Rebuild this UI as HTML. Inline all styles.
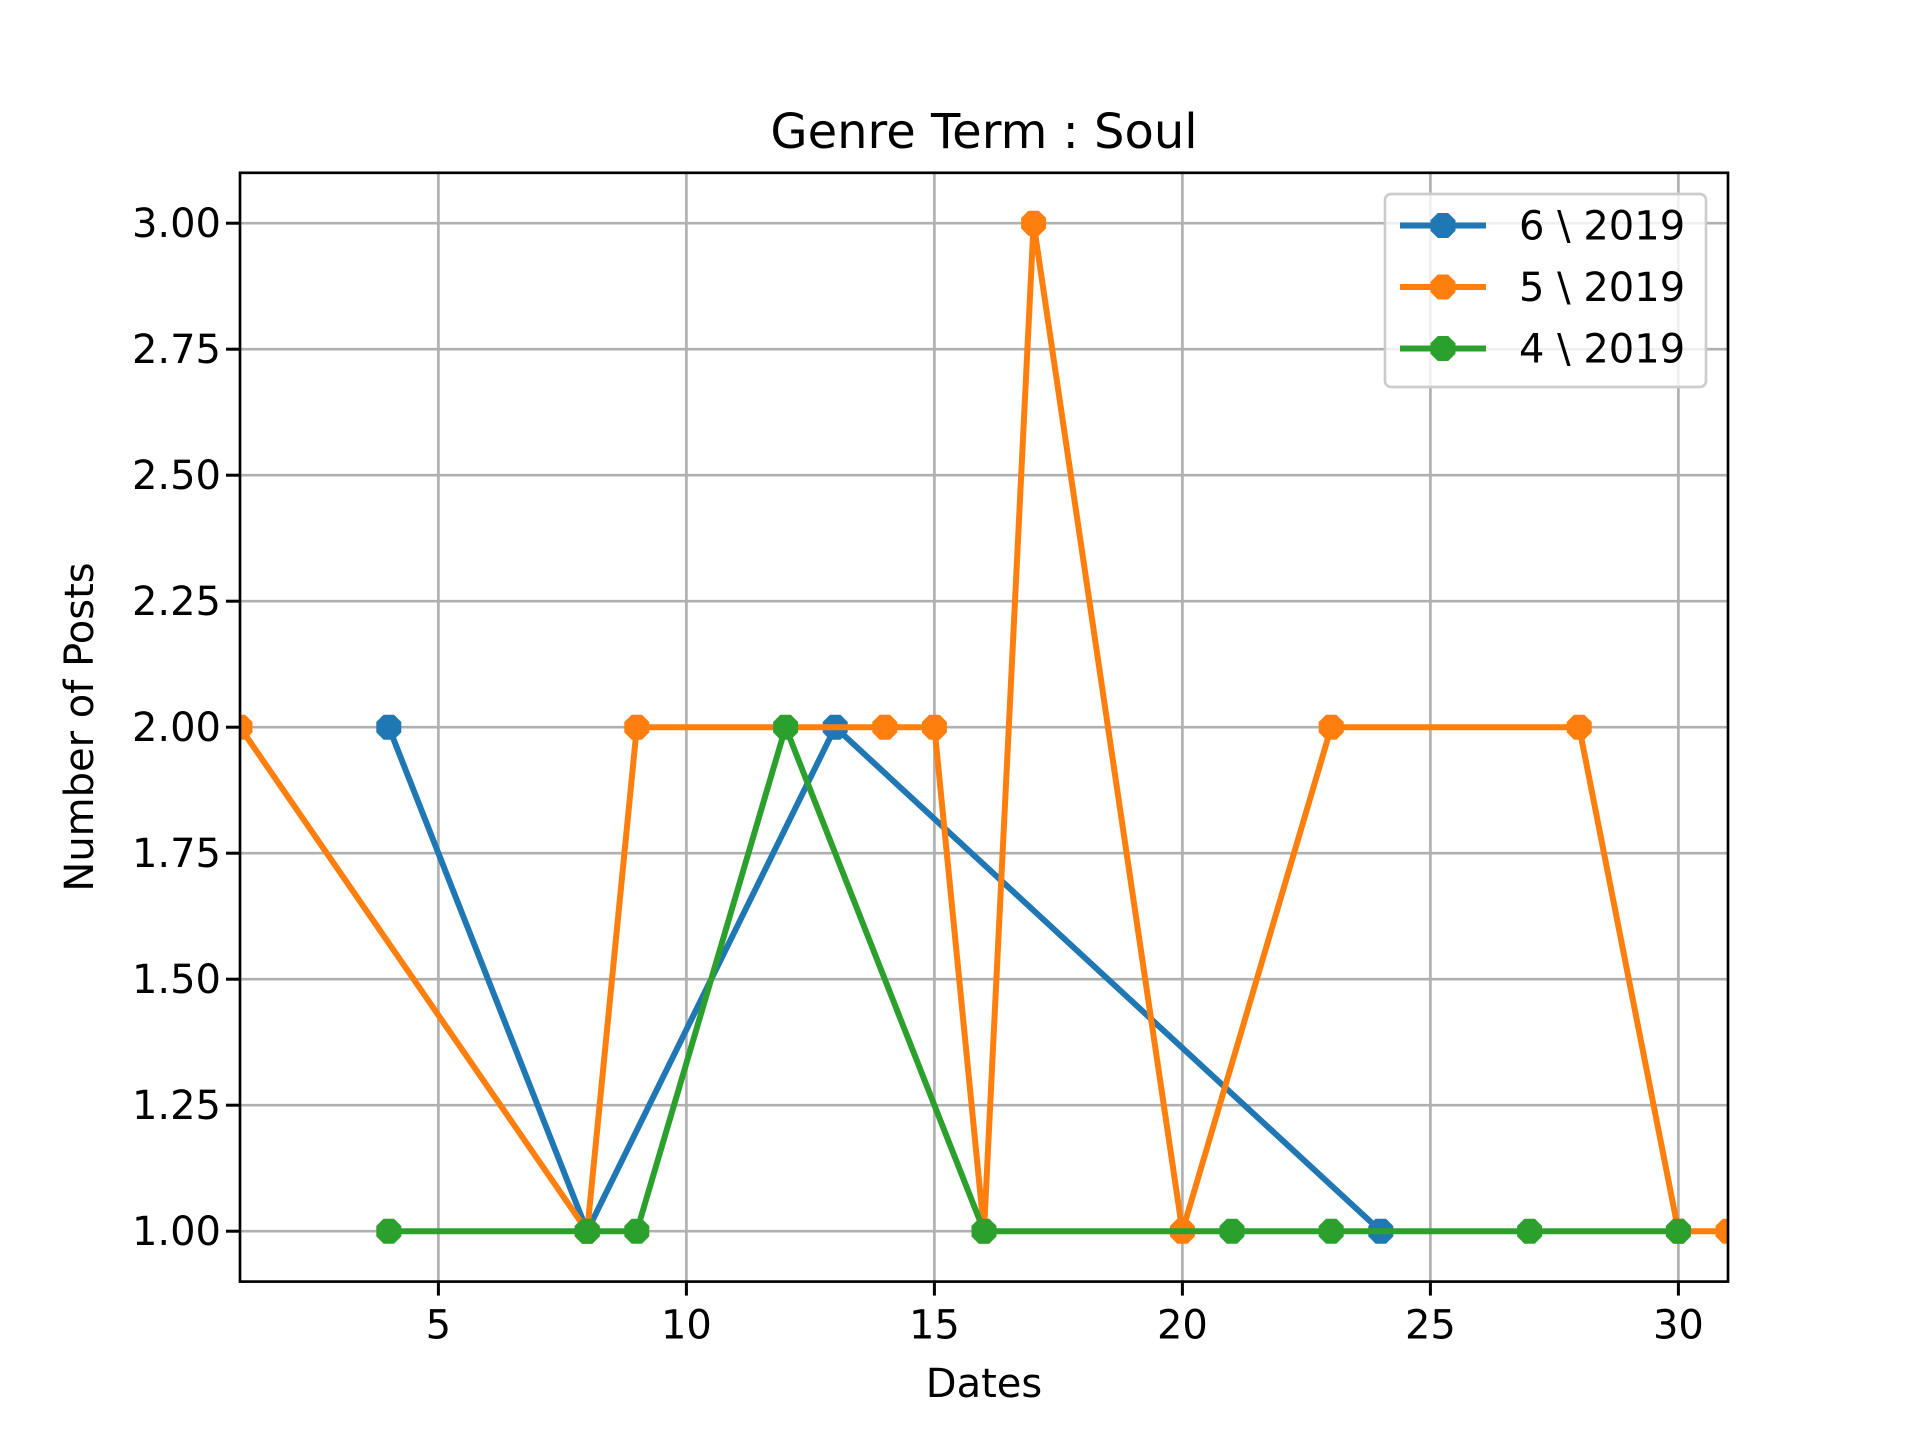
<!DOCTYPE html>
<html><head><meta charset="utf-8"><style>
html,body{margin:0;padding:0;background:#fff;}
svg{display:block;font-family:"DejaVu Sans","Liberation Sans",sans-serif;}
</style></head><body>
<svg id="chart" width="1920" height="1440" viewBox="0 0 1920 1440" xmlns="http://www.w3.org/2000/svg">
<rect width="1920" height="1440" fill="#fff"/>
<g id="grid"></g>
<g id="series"></g>
<rect x="240" y="172.8" width="1488" height="1108.8" fill="none" stroke="#000" stroke-width="2.67"/>
<g id="ticks" font-size="40" fill="#000"></g>
<text x="984" y="148" font-size="48" text-anchor="middle">Genre Term : Soul</text>
<text x="984" y="1397" font-size="40" text-anchor="middle">Dates</text>
<text transform="translate(93,727) rotate(-90)" font-size="40" text-anchor="middle">Number of Posts</text>
<g id="legend"></g>
</svg>
<script>
const blueX=[4,8,13,24];
const blueY=[2,1,2,1];
const orangeX=[1,8,9,14,15,16,17,20,23,28,30,31];
const orangeY=[2,1,2,2,2,1,3,1,2,2,1,1];
const greenX=[4,8,9,12,16,21,23,27,30];
const greenY=[1,1,1,2,1,1,1,1,1];
const seriesNames=["6 \\ 2019","5 \\ 2019","4 \\ 2019"];
const xTicks=[5,10,15,20,25,30];
const yTicks=[1.00,1.25,1.50,1.75,2.00,2.25,2.50,2.75,3.00];
const NS="http://www.w3.org/2000/svg";
const L=240,R=1728,T=172.8,B=1281.6,X0=1,X1=31,Y0=0.9,Y1=3.1;
function sx(v){return L+(v-X0)/(X1-X0)*(R-L);}
function sy(v){return B-(v-Y0)/(Y1-Y0)*(B-T);}
function mk(tag,attrs,parent){const e=document.createElementNS(NS,tag);for(const k in attrs)e.setAttribute(k,attrs[k]);parent.appendChild(e);return e;}
const grid=document.getElementById('grid'),ticks=document.getElementById('ticks');
xTicks.forEach(v=>{
  const g=mk('line',{x1:sx(v),x2:sx(v),y1:T,y2:B,stroke:'#b0b0b0','stroke-width':2.67},grid);
  
  
  const t=mk('line',{x1:sx(v),x2:sx(v),y1:B,y2:B+14,stroke:'#000','stroke-width':3},ticks);
  
  
  const l=mk('text',{x:sx(v),y:B+57,'text-anchor':'middle'},ticks);l.textContent=v;
  
  
});
yTicks.forEach(v=>{
  const g=mk('line',{x1:L,x2:R,y1:sy(v),y2:sy(v),stroke:'#b0b0b0','stroke-width':2.67},grid);
  
  
  const t=mk('line',{x1:L-14,x2:L,y1:sy(v),y2:sy(v),stroke:'#000','stroke-width':3},ticks);
  
  
  const l=mk('text',{x:L-19,y:sy(v)+14,'text-anchor':'end'},ticks);l.textContent=v.toFixed(2);
  
  
});
function oct(cx,cy,r){let p=[];for(let i=0;i<8;i++){const a=Math.PI/8+i*Math.PI/4;p.push((cx+r*Math.cos(a)).toFixed(1)+','+(cy+r*Math.sin(a)).toFixed(1));}return p.join(' ');}
const ser=document.getElementById('series');
const clip=mk('clipPath',{id:'cp'},ser);mk('rect',{x:L,y:T,width:R-L,height:B-T},clip);
const colors=['#1f77b4','#ff7f0e','#2ca02c'];
const allX=[blueX,orangeX,greenX],allY=[blueY,orangeY,greenY];
const names=['series-6-2019','series-5-2019','series-4-2019'];
allX.forEach((xs,i)=>{
  const g=mk('g',{'clip-path':'url(#cp)'},ser);
  
  
  const pts=xs.map((x,j)=>sx(x)+','+sy(allY[i][j])).join(' ');
  const pl=mk('polyline',{points:pts,fill:'none',stroke:colors[i],'stroke-width':6,'stroke-linejoin':'round'},g);
  
  
  xs.forEach((x,j)=>{
    const m=mk('polygon',{points:oct(sx(x),sy(allY[i][j]),13.5),fill:colors[i]},g);
    
    
  });
});
const lg=document.getElementById('legend');
const box=mk('rect',{x:1385,y:194,width:321,height:193,rx:6,fill:'#fff','fill-opacity':0.8,stroke:'#ccc','stroke-width':2.67},lg);


seriesNames.forEach((n,i)=>{
  const y=225.5+i*61.5;
  const g=mk('g',{},lg);
  
  
  mk('line',{x1:1400,x2:1486,y1:y,y2:y,stroke:colors[i],'stroke-width':6},g);
  mk('polygon',{points:oct(1443,y,13.5),fill:colors[i]},g);
  const t=mk('text',{x:1519,y:y+14,'font-size':40},g);t.textContent=n;
});
</script>
</body></html>
